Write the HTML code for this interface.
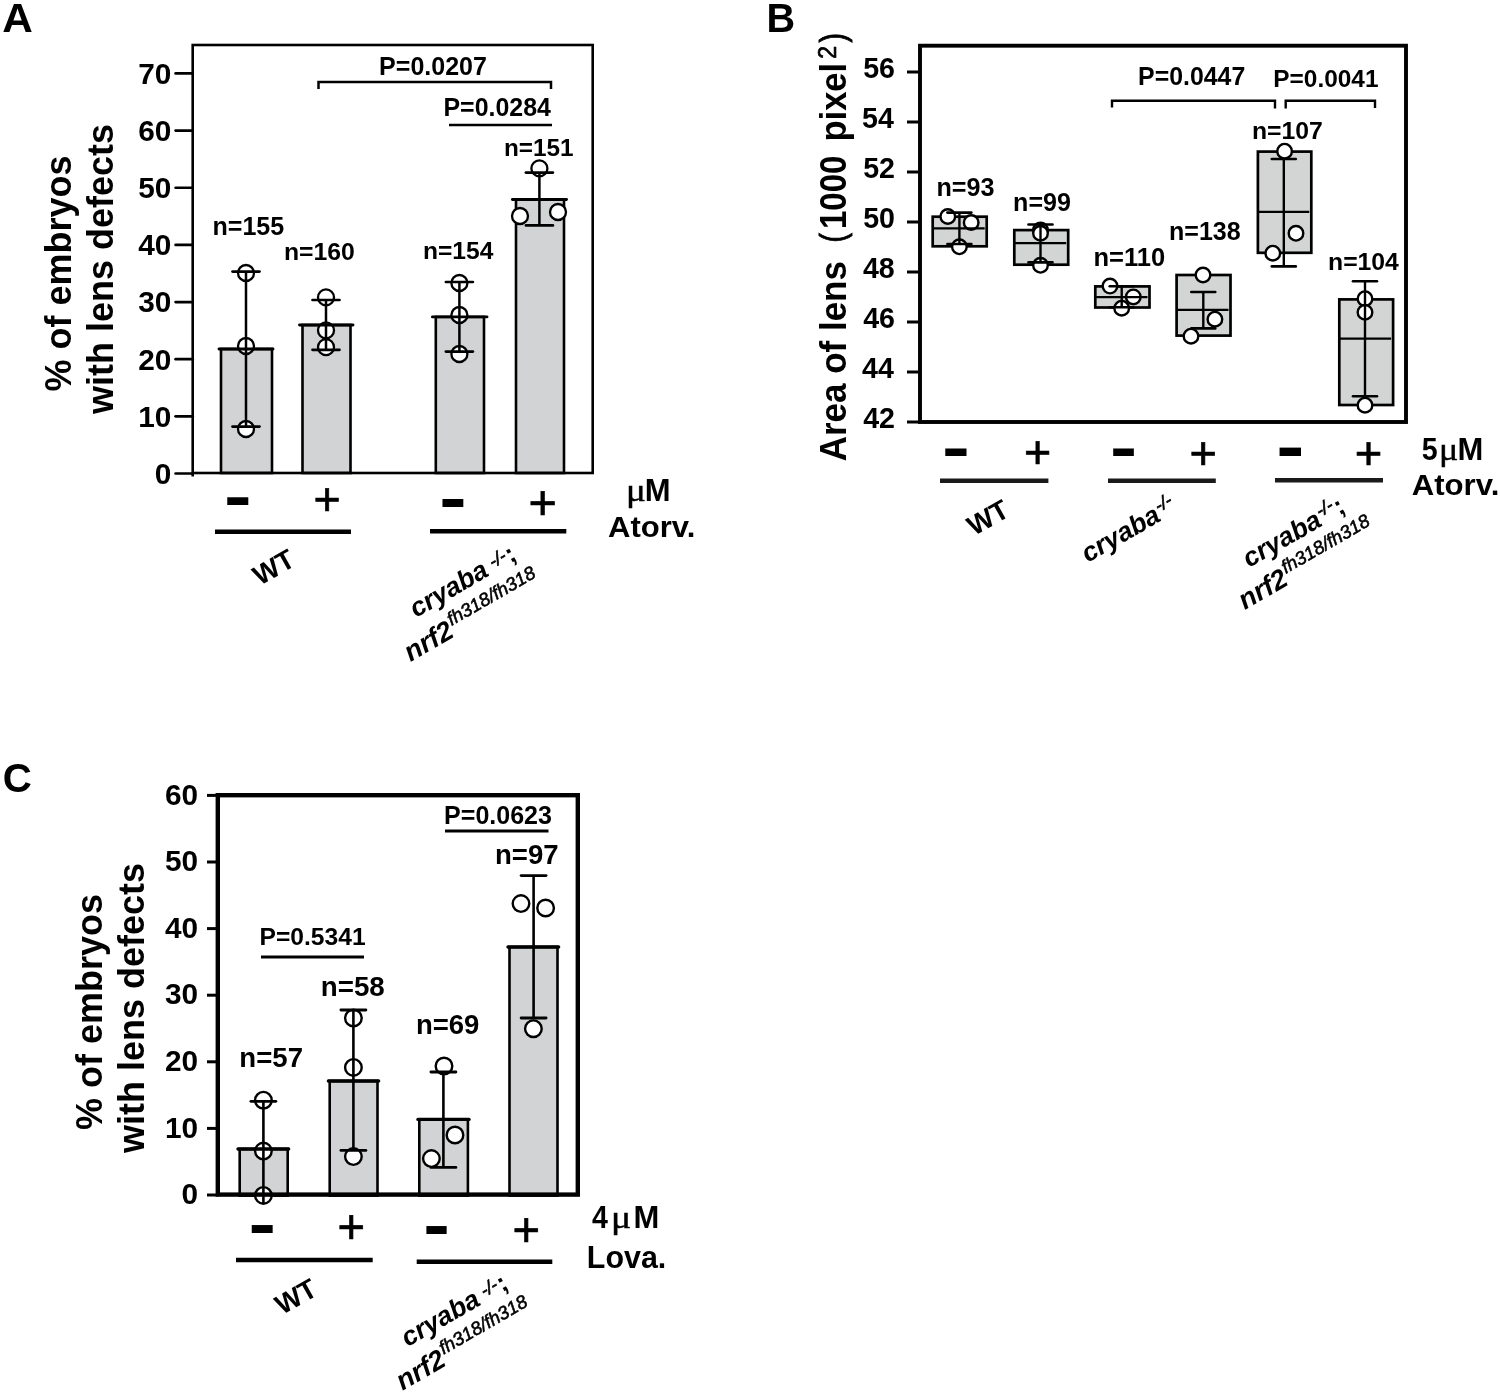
<!DOCTYPE html>
<html><head><meta charset="utf-8"><title>Figure</title>
<style>html,body{margin:0;padding:0;background:#fff}svg{display:block;filter:blur(0.4px)}text{white-space:pre}</style></head>
<body>
<svg width="1500" height="1393" viewBox="0 0 1500 1393" font-family='"Liberation Sans", sans-serif' fill="#000">
<rect x="221.00" y="349.00" width="51.00" height="124.00" fill="#d1d3d4" stroke="#000" stroke-width="2.6"/>
<rect x="302.50" y="325.00" width="48.00" height="148.00" fill="#d1d3d4" stroke="#000" stroke-width="2.6"/>
<rect x="435.80" y="316.90" width="48.20" height="156.10" fill="#d1d3d4" stroke="#000" stroke-width="2.6"/>
<rect x="516.00" y="199.50" width="48.00" height="273.50" fill="#d1d3d4" stroke="#000" stroke-width="2.6"/>
<rect x="192.70" y="45.00" width="400.00" height="428.00" fill="none" stroke="#000" stroke-width="2.6"/>
<line x1="192.70" y1="473.00" x2="192.70" y2="476.50" stroke="#000" stroke-width="2.6" stroke-linecap="butt"/>
<line x1="175.60" y1="473.50" x2="192.70" y2="473.50" stroke="#000" stroke-width="2.7" stroke-linecap="round"/>
<text transform="translate(154.80,483.80) scale(1.0000,1)" font-size="29.80" style="font-weight:bold;">0</text>
<line x1="175.60" y1="416.35" x2="192.70" y2="416.35" stroke="#000" stroke-width="2.7" stroke-linecap="round"/>
<text transform="translate(138.23,426.65) scale(1.0000,1)" font-size="29.80" style="font-weight:bold;">10</text>
<line x1="175.60" y1="359.20" x2="192.70" y2="359.20" stroke="#000" stroke-width="2.7" stroke-linecap="round"/>
<text transform="translate(138.23,369.50) scale(1.0000,1)" font-size="29.80" style="font-weight:bold;">20</text>
<line x1="175.60" y1="302.05" x2="192.70" y2="302.05" stroke="#000" stroke-width="2.7" stroke-linecap="round"/>
<text transform="translate(138.23,312.35) scale(1.0000,1)" font-size="29.80" style="font-weight:bold;">30</text>
<line x1="175.60" y1="244.90" x2="192.70" y2="244.90" stroke="#000" stroke-width="2.7" stroke-linecap="round"/>
<text transform="translate(138.23,255.20) scale(1.0000,1)" font-size="29.80" style="font-weight:bold;">40</text>
<line x1="175.60" y1="187.75" x2="192.70" y2="187.75" stroke="#000" stroke-width="2.7" stroke-linecap="round"/>
<text transform="translate(138.23,198.05) scale(1.0000,1)" font-size="29.80" style="font-weight:bold;">50</text>
<line x1="175.60" y1="130.60" x2="192.70" y2="130.60" stroke="#000" stroke-width="2.7" stroke-linecap="round"/>
<text transform="translate(138.23,140.90) scale(1.0000,1)" font-size="29.80" style="font-weight:bold;">60</text>
<line x1="175.60" y1="73.45" x2="192.70" y2="73.45" stroke="#000" stroke-width="2.7" stroke-linecap="round"/>
<text transform="translate(138.23,83.75) scale(1.0000,1)" font-size="29.80" style="font-weight:bold;">70</text>
<circle cx="246.00" cy="273.00" r="8.0" fill="#fff" stroke="#000" stroke-width="2.3"/>
<circle cx="246.00" cy="346.00" r="8.0" fill="#fff" stroke="#000" stroke-width="2.3"/>
<circle cx="246.00" cy="429.00" r="8.0" fill="#fff" stroke="#000" stroke-width="2.3"/>
<circle cx="326.00" cy="297.40" r="8.0" fill="#fff" stroke="#000" stroke-width="2.3"/>
<circle cx="326.00" cy="330.40" r="8.0" fill="#fff" stroke="#000" stroke-width="2.3"/>
<circle cx="326.00" cy="347.10" r="8.0" fill="#fff" stroke="#000" stroke-width="2.3"/>
<circle cx="459.40" cy="283.00" r="8.0" fill="#fff" stroke="#000" stroke-width="2.3"/>
<circle cx="459.40" cy="315.00" r="8.0" fill="#fff" stroke="#000" stroke-width="2.3"/>
<circle cx="459.40" cy="354.00" r="8.0" fill="#fff" stroke="#000" stroke-width="2.3"/>
<circle cx="539.40" cy="168.40" r="8.0" fill="#fff" stroke="#000" stroke-width="2.3"/>
<circle cx="520.00" cy="216.00" r="8.0" fill="#fff" stroke="#000" stroke-width="2.3"/>
<circle cx="558.00" cy="212.00" r="8.0" fill="#fff" stroke="#000" stroke-width="2.3"/>
<line x1="219.00" y1="349.00" x2="273.00" y2="349.00" stroke="#000" stroke-width="2.9" stroke-linecap="round"/>
<line x1="299.50" y1="325.00" x2="353.00" y2="325.00" stroke="#000" stroke-width="2.9" stroke-linecap="round"/>
<line x1="432.40" y1="316.90" x2="487.00" y2="316.90" stroke="#000" stroke-width="2.9" stroke-linecap="round"/>
<line x1="512.40" y1="199.50" x2="566.50" y2="199.50" stroke="#000" stroke-width="2.9" stroke-linecap="round"/>
<line x1="246.00" y1="271.60" x2="246.00" y2="426.60" stroke="#000" stroke-width="2.5" stroke-linecap="butt"/>
<line x1="232.50" y1="271.60" x2="259.50" y2="271.60" stroke="#000" stroke-width="2.7" stroke-linecap="round"/>
<line x1="232.50" y1="426.60" x2="259.50" y2="426.60" stroke="#000" stroke-width="2.7" stroke-linecap="round"/>
<line x1="326.00" y1="300.00" x2="326.00" y2="349.80" stroke="#000" stroke-width="2.5" stroke-linecap="butt"/>
<line x1="312.50" y1="300.00" x2="339.50" y2="300.00" stroke="#000" stroke-width="2.7" stroke-linecap="round"/>
<line x1="312.50" y1="349.80" x2="339.50" y2="349.80" stroke="#000" stroke-width="2.7" stroke-linecap="round"/>
<line x1="459.40" y1="282.00" x2="459.40" y2="351.60" stroke="#000" stroke-width="2.5" stroke-linecap="butt"/>
<line x1="445.90" y1="282.00" x2="472.90" y2="282.00" stroke="#000" stroke-width="2.7" stroke-linecap="round"/>
<line x1="445.90" y1="351.60" x2="472.90" y2="351.60" stroke="#000" stroke-width="2.7" stroke-linecap="round"/>
<line x1="539.40" y1="172.60" x2="539.40" y2="225.40" stroke="#000" stroke-width="2.5" stroke-linecap="butt"/>
<line x1="525.90" y1="172.60" x2="552.90" y2="172.60" stroke="#000" stroke-width="2.7" stroke-linecap="round"/>
<line x1="525.90" y1="225.40" x2="552.90" y2="225.40" stroke="#000" stroke-width="2.7" stroke-linecap="round"/>
<polyline points="318.5,89 318.5,82 551,82 551,89" fill="none" stroke="#000" stroke-width="2.5"/>
<line x1="449.00" y1="125.00" x2="552.00" y2="125.00" stroke="#000" stroke-width="2.6" stroke-linecap="butt"/>
<text transform="translate(379.10,75.20) scale(1.0000,1)" font-size="25.02" style="font-weight:bold;">P=0.0207</text>
<text transform="translate(443.50,116.00) scale(1.0000,1)" font-size="24.92" style="font-weight:bold;">P=0.0284</text>
<text transform="translate(212.50,235.20) scale(1.0000,1)" font-size="25.06" style="font-weight:bold;">n=155</text>
<text transform="translate(283.91,259.60) scale(1.0000,1)" font-size="24.79" style="font-weight:bold;">n=160</text>
<text transform="translate(422.92,259.00) scale(1.0000,1)" font-size="24.62" style="font-weight:bold;">n=154</text>
<text transform="translate(503.94,156.00) scale(1.0000,1)" font-size="24.34" style="font-weight:bold;">n=151</text>
<text transform="translate(2.35,32.00) scale(1.0588,1)" font-size="40.00" style="font-weight:bold;">A</text>
<text transform="translate(70.90,273.50) rotate(-90) scale(1,1.0)" font-size="36" text-anchor="middle" style="font-weight:bold;">% of embryos</text>
<text transform="translate(113.40,269.00) rotate(-90) scale(1,1.0)" font-size="36" text-anchor="middle" style="font-weight:bold;">with lens defects</text>
<text transform="translate(224.11,518.40) scale(0.8296,0.6500)" font-size="100" style="font-weight:bold;">-</text>
<text transform="translate(313.49,515.44) scale(0.4660,0.4660)" font-size="100" style="" stroke="#000" stroke-width="1.502">+</text>
<text transform="translate(439.23,520.37) scale(0.8222,0.6583)" font-size="100" style="font-weight:bold;">-</text>
<text transform="translate(528.41,519.11) scale(0.4860,0.4840)" font-size="100" style="" stroke="#000" stroke-width="1.443">+</text>
<line x1="215.00" y1="531.80" x2="351.00" y2="531.80" stroke="#000" stroke-width="4.4" stroke-linecap="butt"/>
<line x1="430.00" y1="531.30" x2="566.30" y2="531.30" stroke="#000" stroke-width="4.4" stroke-linecap="butt"/>
<text y="501.00" font-size="31" style="font-weight:bold"><tspan x="625.96" textLength="19.85" lengthAdjust="spacingAndGlyphs" style="font-family:'Liberation Serif',serif;font-weight:normal" stroke="#000" stroke-width="0.45">μ</tspan><tspan x="644.84" textLength="25.81" lengthAdjust="spacingAndGlyphs">M</tspan></text>
<text transform="translate(608.08,536.70) scale(1.0516,1)" font-size="29.50" style="font-weight:bold;">Atorv.</text>
<text transform="translate(259.70,585.90) rotate(-29.5) scale(1,1)" font-size="27.5" text-anchor="start" style="font-weight:bold;">WT</text>
<text transform="translate(415.90,618.10) rotate(-30)" font-size="26.6" style="font-weight:bold;font-style:italic">cryaba<tspan dx="6.1" dy="-4.95" font-size="18" style="font-weight:normal" stroke="#000" stroke-width="0.7">-/-</tspan><tspan dx="0.5" dy="4.95" font-size="26.6" style="font-style:normal">;</tspan></text>
<text transform="translate(410.50,662.00) rotate(-30)" font-size="27.5" style="font-weight:bold;font-style:italic">nrf2<tspan dx="1.6" dy="-10.7" font-size="18.7" style="font-weight:normal" stroke="#000" stroke-width="0.55">fh318/fh318</tspan></text>
<rect x="932.70" y="216.70" width="54.00" height="29.60" fill="#d3d5d4" stroke="#000" stroke-width="2.7"/>
<rect x="1014.30" y="230.10" width="53.90" height="34.60" fill="#d3d5d4" stroke="#000" stroke-width="2.7"/>
<rect x="1095.30" y="286.40" width="54.20" height="21.10" fill="#d3d5d4" stroke="#000" stroke-width="2.7"/>
<rect x="1176.60" y="275.00" width="53.90" height="60.60" fill="#d3d5d4" stroke="#000" stroke-width="2.7"/>
<rect x="1257.90" y="151.60" width="53.40" height="101.20" fill="#d3d5d4" stroke="#000" stroke-width="2.7"/>
<rect x="1339.30" y="299.40" width="53.80" height="105.60" fill="#d3d5d4" stroke="#000" stroke-width="2.7"/>
<rect x="920.00" y="45.70" width="486.00" height="376.30" fill="none" stroke="#000" stroke-width="3.9"/>
<line x1="907.00" y1="422.00" x2="920.00" y2="422.00" stroke="#000" stroke-width="3.0" stroke-linecap="butt"/>
<text transform="translate(863.22,428.20) scale(1.0000,1)" font-size="28.60" style="font-weight:bold;">42</text>
<line x1="907.00" y1="372.00" x2="920.00" y2="372.00" stroke="#000" stroke-width="3.0" stroke-linecap="butt"/>
<text transform="translate(862.08,378.20) scale(1.0000,1)" font-size="28.60" style="font-weight:bold;">44</text>
<line x1="907.00" y1="322.00" x2="920.00" y2="322.00" stroke="#000" stroke-width="3.0" stroke-linecap="butt"/>
<text transform="translate(863.22,328.20) scale(1.0000,1)" font-size="28.60" style="font-weight:bold;">46</text>
<line x1="907.00" y1="272.00" x2="920.00" y2="272.00" stroke="#000" stroke-width="3.0" stroke-linecap="butt"/>
<text transform="translate(862.94,278.20) scale(1.0000,1)" font-size="28.60" style="font-weight:bold;">48</text>
<line x1="907.00" y1="222.00" x2="920.00" y2="222.00" stroke="#000" stroke-width="3.0" stroke-linecap="butt"/>
<text transform="translate(863.22,228.20) scale(1.0000,1)" font-size="28.60" style="font-weight:bold;">50</text>
<line x1="907.00" y1="172.00" x2="920.00" y2="172.00" stroke="#000" stroke-width="3.0" stroke-linecap="butt"/>
<text transform="translate(863.22,178.20) scale(1.0000,1)" font-size="28.60" style="font-weight:bold;">52</text>
<line x1="907.00" y1="122.00" x2="920.00" y2="122.00" stroke="#000" stroke-width="3.0" stroke-linecap="butt"/>
<text transform="translate(862.08,128.20) scale(1.0000,1)" font-size="28.60" style="font-weight:bold;">54</text>
<line x1="907.00" y1="72.00" x2="920.00" y2="72.00" stroke="#000" stroke-width="3.0" stroke-linecap="butt"/>
<text transform="translate(863.22,78.20) scale(1.0000,1)" font-size="28.60" style="font-weight:bold;">56</text>
<circle cx="947.80" cy="216.50" r="7.3" fill="#fff" stroke="#000" stroke-width="2.4"/>
<circle cx="971.20" cy="222.50" r="7.3" fill="#fff" stroke="#000" stroke-width="2.4"/>
<circle cx="959.40" cy="246.80" r="7.3" fill="#fff" stroke="#000" stroke-width="2.4"/>
<circle cx="1040.50" cy="230.10" r="7.3" fill="#fff" stroke="#000" stroke-width="2.4"/>
<circle cx="1040.50" cy="233.30" r="7.3" fill="#fff" stroke="#000" stroke-width="2.4"/>
<circle cx="1040.50" cy="265.30" r="7.3" fill="#fff" stroke="#000" stroke-width="2.4"/>
<circle cx="1110.00" cy="286.10" r="7.3" fill="#fff" stroke="#000" stroke-width="2.4"/>
<circle cx="1133.30" cy="296.90" r="7.3" fill="#fff" stroke="#000" stroke-width="2.4"/>
<circle cx="1121.70" cy="308.20" r="7.3" fill="#fff" stroke="#000" stroke-width="2.4"/>
<circle cx="1203.00" cy="275.00" r="7.3" fill="#fff" stroke="#000" stroke-width="2.4"/>
<circle cx="1214.90" cy="319.20" r="7.3" fill="#fff" stroke="#000" stroke-width="2.4"/>
<circle cx="1191.00" cy="336.20" r="7.3" fill="#fff" stroke="#000" stroke-width="2.4"/>
<circle cx="1284.60" cy="151.20" r="7.3" fill="#fff" stroke="#000" stroke-width="2.4"/>
<circle cx="1296.00" cy="233.30" r="7.3" fill="#fff" stroke="#000" stroke-width="2.4"/>
<circle cx="1272.80" cy="253.20" r="7.3" fill="#fff" stroke="#000" stroke-width="2.4"/>
<circle cx="1365.00" cy="298.70" r="7.3" fill="#fff" stroke="#000" stroke-width="2.4"/>
<circle cx="1365.00" cy="312.30" r="7.3" fill="#fff" stroke="#000" stroke-width="2.4"/>
<circle cx="1365.00" cy="405.20" r="7.3" fill="#fff" stroke="#000" stroke-width="2.4"/>
<line x1="932.70" y1="228.40" x2="984.70" y2="228.40" stroke="#000" stroke-width="2.3" stroke-linecap="butt"/>
<line x1="959.40" y1="212.60" x2="959.40" y2="244.00" stroke="#000" stroke-width="2.4" stroke-linecap="butt"/>
<line x1="947.40" y1="212.60" x2="971.40" y2="212.60" stroke="#000" stroke-width="2.6" stroke-linecap="round"/>
<line x1="947.40" y1="244.00" x2="971.40" y2="244.00" stroke="#000" stroke-width="2.6" stroke-linecap="round"/>
<line x1="1014.30" y1="243.20" x2="1066.20" y2="243.20" stroke="#000" stroke-width="2.3" stroke-linecap="butt"/>
<line x1="1040.50" y1="224.50" x2="1040.50" y2="262.40" stroke="#000" stroke-width="2.4" stroke-linecap="butt"/>
<line x1="1028.50" y1="224.50" x2="1052.50" y2="224.50" stroke="#000" stroke-width="2.6" stroke-linecap="round"/>
<line x1="1028.50" y1="262.40" x2="1052.50" y2="262.40" stroke="#000" stroke-width="2.6" stroke-linecap="round"/>
<line x1="1095.30" y1="297.10" x2="1147.50" y2="297.10" stroke="#000" stroke-width="2.3" stroke-linecap="butt"/>
<line x1="1121.70" y1="286.30" x2="1121.70" y2="307.30" stroke="#000" stroke-width="2.4" stroke-linecap="butt"/>
<line x1="1109.70" y1="286.30" x2="1133.70" y2="286.30" stroke="#000" stroke-width="2.6" stroke-linecap="round"/>
<line x1="1109.70" y1="307.30" x2="1133.70" y2="307.30" stroke="#000" stroke-width="2.6" stroke-linecap="round"/>
<line x1="1176.60" y1="309.90" x2="1228.50" y2="309.90" stroke="#000" stroke-width="2.3" stroke-linecap="butt"/>
<line x1="1203.30" y1="292.00" x2="1203.30" y2="328.40" stroke="#000" stroke-width="2.4" stroke-linecap="butt"/>
<line x1="1191.30" y1="292.00" x2="1215.30" y2="292.00" stroke="#000" stroke-width="2.6" stroke-linecap="round"/>
<line x1="1191.30" y1="328.40" x2="1215.30" y2="328.40" stroke="#000" stroke-width="2.6" stroke-linecap="round"/>
<line x1="1257.90" y1="211.90" x2="1309.30" y2="211.90" stroke="#000" stroke-width="2.3" stroke-linecap="butt"/>
<line x1="1283.80" y1="159.00" x2="1283.80" y2="266.40" stroke="#000" stroke-width="2.4" stroke-linecap="butt"/>
<line x1="1271.80" y1="159.00" x2="1295.80" y2="159.00" stroke="#000" stroke-width="2.6" stroke-linecap="round"/>
<line x1="1271.80" y1="266.40" x2="1295.80" y2="266.40" stroke="#000" stroke-width="2.6" stroke-linecap="round"/>
<line x1="1339.30" y1="338.70" x2="1391.10" y2="338.70" stroke="#000" stroke-width="2.3" stroke-linecap="butt"/>
<line x1="1365.00" y1="281.30" x2="1365.00" y2="396.30" stroke="#000" stroke-width="2.4" stroke-linecap="butt"/>
<line x1="1353.00" y1="281.30" x2="1377.00" y2="281.30" stroke="#000" stroke-width="2.6" stroke-linecap="round"/>
<line x1="1353.00" y1="396.30" x2="1377.00" y2="396.30" stroke="#000" stroke-width="2.6" stroke-linecap="round"/>
<polyline points="1112,107.6 1112,100.7 1275,100.7 1275,108.5" fill="none" stroke="#000" stroke-width="2.4"/>
<polyline points="1285.7,108.5 1285.7,100.7 1375,100.7 1375,108" fill="none" stroke="#000" stroke-width="2.4"/>
<text transform="translate(1138.11,85.00) scale(1.0000,1)" font-size="24.87" style="font-weight:bold;">P=0.0447</text>
<text transform="translate(1273.34,87.00) scale(1.0000,1)" font-size="24.41" style="font-weight:bold;">P=0.0041</text>
<text transform="translate(936.49,195.60) scale(1.0000,1)" font-size="25.15" style="font-weight:bold;">n=93</text>
<text transform="translate(1013.10,211.00) scale(1.0000,1)" font-size="25.06" style="font-weight:bold;">n=99</text>
<text transform="translate(1093.47,265.70) scale(1.0000,1)" font-size="25.52" style="font-weight:bold;">n=110</text>
<text transform="translate(1169.00,239.50) scale(1.0000,1)" font-size="25.03" style="font-weight:bold;">n=138</text>
<text transform="translate(1251.91,139.40) scale(1.0000,1)" font-size="24.75" style="font-weight:bold;">n=107</text>
<text transform="translate(1328.01,269.50) scale(1.0000,1)" font-size="24.76" style="font-weight:bold;">n=104</text>
<text transform="translate(766.62,32.00) scale(0.9919,1)" font-size="40.00" style="font-weight:bold;">B</text>
<text transform="translate(845.80,461.30) rotate(-90) scale(1,1.06)" font-size="35" style="font-weight:bold">Area of lens<tspan x="218.70" y="-0.38" font-size="33.2" textLength="9.40" lengthAdjust="spacingAndGlyphs" style="font-weight:normal" stroke="#000" stroke-width="0.9">(</tspan><tspan x="232.30" y="0" font-size="35.3" textLength="73.41" lengthAdjust="spacingAndGlyphs">1000</tspan><tspan x="319.80" y="0" font-size="34.5">pixel</tspan><tspan x="402.30" y="-8.96" font-size="23.5" style="font-weight:normal" stroke="#000" stroke-width="0.6">2</tspan><tspan x="418.80" y="-0.38" font-size="33.2" textLength="9.40" lengthAdjust="spacingAndGlyphs" style="font-weight:normal" stroke="#000" stroke-width="0.9">)</tspan></text>
<text transform="translate(941.89,468.67) scale(0.8370,0.6333)" font-size="100" style="font-weight:bold;">-</text>
<text transform="translate(1024.09,468.37) scale(0.4660,0.4580)" font-size="100" style="" stroke="#000" stroke-width="1.515">+</text>
<text transform="translate(1109.96,468.67) scale(0.8148,0.6333)" font-size="100" style="font-weight:bold;">-</text>
<text transform="translate(1189.47,468.56) scale(0.4700,0.4680)" font-size="100" style="" stroke="#000" stroke-width="1.493">+</text>
<text transform="translate(1276.27,469.87) scale(0.8444,0.7083)" font-size="100" style="font-weight:bold;">-</text>
<text transform="translate(1354.66,468.56) scale(0.4720,0.4680)" font-size="100" style="" stroke="#000" stroke-width="1.489">+</text>
<line x1="940.00" y1="480.70" x2="1048.40" y2="480.70" stroke="#1a1a1a" stroke-width="4.6" stroke-linecap="butt"/>
<line x1="1108.00" y1="480.70" x2="1215.80" y2="480.70" stroke="#1a1a1a" stroke-width="4.6" stroke-linecap="butt"/>
<line x1="1275.00" y1="480.20" x2="1383.00" y2="480.20" stroke="#1a1a1a" stroke-width="4.6" stroke-linecap="butt"/>
<text y="459.50" font-size="31" style="font-weight:bold"><tspan x="1421.84" textLength="15.91" lengthAdjust="spacingAndGlyphs">5</tspan><tspan x="1439.04" textLength="19.34" lengthAdjust="spacingAndGlyphs" style="font-family:'Liberation Serif',serif;font-weight:normal" stroke="#000" stroke-width="0.45">μ</tspan><tspan x="1457.44" textLength="25.81" lengthAdjust="spacingAndGlyphs">M</tspan></text>
<text transform="translate(1411.68,494.90) scale(1.0494,1)" font-size="29.70" style="font-weight:bold;">Atorv.</text>
<text transform="translate(974.00,536.20) rotate(-29.5) scale(1,1)" font-size="27.5" text-anchor="start" style="font-weight:bold;">WT</text>
<text transform="translate(1087.80,563.00) rotate(-30)" font-size="26.6" style="font-weight:bold;font-style:italic">cryaba<tspan dx="1.0" dy="-8.5" font-size="18" style="font-weight:normal" stroke="#000" stroke-width="0.7">-/-</tspan></text>
<text transform="translate(1249.00,568.00) rotate(-30)" font-size="26.6" style="font-weight:bold;font-style:italic">cryaba<tspan dx="1.0" dy="-8.5" font-size="18" style="font-weight:normal" stroke="#000" stroke-width="0.7">-/-</tspan><tspan dx="0.5" dy="8.5" font-size="26.6" style="font-style:normal">;</tspan></text>
<text transform="translate(1244.80,610.00) rotate(-30)" font-size="27.5" style="font-weight:bold;font-style:italic">nrf2<tspan dx="1.6" dy="-10.7" font-size="18.7" style="font-weight:normal" stroke="#000" stroke-width="0.55">fh318/fh318</tspan></text>
<rect x="239.70" y="1149.00" width="48.00" height="46.60" fill="#d1d3d4" stroke="#000" stroke-width="2.6"/>
<rect x="329.70" y="1081.00" width="47.80" height="114.60" fill="#d1d3d4" stroke="#000" stroke-width="2.6"/>
<rect x="419.30" y="1119.40" width="48.60" height="76.20" fill="#d1d3d4" stroke="#000" stroke-width="2.6"/>
<rect x="509.50" y="947.00" width="48.00" height="248.60" fill="#d1d3d4" stroke="#000" stroke-width="2.6"/>
<line x1="207.00" y1="1195.00" x2="217.80" y2="1195.00" stroke="#000" stroke-width="3.0" stroke-linecap="butt"/>
<text transform="translate(181.50,1204.20) scale(1.0000,1)" font-size="29.80" style="font-weight:bold;">0</text>
<line x1="207.00" y1="1128.40" x2="217.80" y2="1128.40" stroke="#000" stroke-width="3.0" stroke-linecap="butt"/>
<text transform="translate(164.93,1137.60) scale(1.0000,1)" font-size="29.80" style="font-weight:bold;">10</text>
<line x1="207.00" y1="1061.80" x2="217.80" y2="1061.80" stroke="#000" stroke-width="3.0" stroke-linecap="butt"/>
<text transform="translate(164.93,1071.00) scale(1.0000,1)" font-size="29.80" style="font-weight:bold;">20</text>
<line x1="207.00" y1="995.20" x2="217.80" y2="995.20" stroke="#000" stroke-width="3.0" stroke-linecap="butt"/>
<text transform="translate(164.93,1004.40) scale(1.0000,1)" font-size="29.80" style="font-weight:bold;">30</text>
<line x1="207.00" y1="928.60" x2="217.80" y2="928.60" stroke="#000" stroke-width="3.0" stroke-linecap="butt"/>
<text transform="translate(164.93,937.80) scale(1.0000,1)" font-size="29.80" style="font-weight:bold;">40</text>
<line x1="207.00" y1="862.00" x2="217.80" y2="862.00" stroke="#000" stroke-width="3.0" stroke-linecap="butt"/>
<text transform="translate(164.93,871.20) scale(1.0000,1)" font-size="29.80" style="font-weight:bold;">50</text>
<line x1="207.00" y1="795.40" x2="217.80" y2="795.40" stroke="#000" stroke-width="3.0" stroke-linecap="butt"/>
<text transform="translate(164.93,804.60) scale(1.0000,1)" font-size="29.80" style="font-weight:bold;">60</text>
<circle cx="263.40" cy="1100.20" r="8.3" fill="#fff" stroke="#000" stroke-width="2.4"/>
<circle cx="263.40" cy="1151.10" r="8.3" fill="#fff" stroke="#000" stroke-width="2.4"/>
<circle cx="263.40" cy="1195.40" r="8.3" fill="#fff" stroke="#000" stroke-width="2.4"/>
<circle cx="353.40" cy="1018.00" r="8.3" fill="#fff" stroke="#000" stroke-width="2.4"/>
<circle cx="353.40" cy="1067.40" r="8.3" fill="#fff" stroke="#000" stroke-width="2.4"/>
<circle cx="353.40" cy="1156.60" r="8.3" fill="#fff" stroke="#000" stroke-width="2.4"/>
<circle cx="444.00" cy="1066.00" r="8.3" fill="#fff" stroke="#000" stroke-width="2.4"/>
<circle cx="455.00" cy="1135.00" r="8.3" fill="#fff" stroke="#000" stroke-width="2.4"/>
<circle cx="431.40" cy="1158.60" r="8.3" fill="#fff" stroke="#000" stroke-width="2.4"/>
<circle cx="521.00" cy="903.60" r="8.3" fill="#fff" stroke="#000" stroke-width="2.4"/>
<circle cx="545.60" cy="908.00" r="8.3" fill="#fff" stroke="#000" stroke-width="2.4"/>
<circle cx="533.40" cy="1028.70" r="8.3" fill="#fff" stroke="#000" stroke-width="2.4"/>
<rect x="217.80" y="795.20" width="360.00" height="399.40" fill="none" stroke="#000" stroke-width="4.4"/>
<line x1="238.00" y1="1149.00" x2="288.60" y2="1149.00" stroke="#000" stroke-width="3.4" stroke-linecap="round"/>
<line x1="328.40" y1="1081.00" x2="378.60" y2="1081.00" stroke="#000" stroke-width="3.4" stroke-linecap="round"/>
<line x1="418.00" y1="1119.40" x2="469.00" y2="1119.40" stroke="#000" stroke-width="3.4" stroke-linecap="round"/>
<line x1="508.00" y1="947.00" x2="558.60" y2="947.00" stroke="#000" stroke-width="3.4" stroke-linecap="round"/>
<line x1="263.40" y1="1101.30" x2="263.40" y2="1203.00" stroke="#000" stroke-width="2.6" stroke-linecap="butt"/>
<line x1="250.90" y1="1101.30" x2="275.90" y2="1101.30" stroke="#000" stroke-width="2.8000000000000003" stroke-linecap="round"/>
<line x1="353.40" y1="1010.00" x2="353.40" y2="1150.40" stroke="#000" stroke-width="2.6" stroke-linecap="butt"/>
<line x1="340.90" y1="1010.00" x2="365.90" y2="1010.00" stroke="#000" stroke-width="2.8000000000000003" stroke-linecap="round"/>
<line x1="340.90" y1="1150.40" x2="365.90" y2="1150.40" stroke="#000" stroke-width="2.8000000000000003" stroke-linecap="round"/>
<line x1="443.40" y1="1072.00" x2="443.40" y2="1167.40" stroke="#000" stroke-width="2.6" stroke-linecap="butt"/>
<line x1="430.90" y1="1072.00" x2="455.90" y2="1072.00" stroke="#000" stroke-width="2.8000000000000003" stroke-linecap="round"/>
<line x1="430.90" y1="1167.40" x2="455.90" y2="1167.40" stroke="#000" stroke-width="2.8000000000000003" stroke-linecap="round"/>
<line x1="533.60" y1="875.60" x2="533.60" y2="1018.00" stroke="#000" stroke-width="2.6" stroke-linecap="butt"/>
<line x1="521.10" y1="875.60" x2="546.10" y2="875.60" stroke="#000" stroke-width="2.8000000000000003" stroke-linecap="round"/>
<line x1="521.10" y1="1018.00" x2="546.10" y2="1018.00" stroke="#000" stroke-width="2.8000000000000003" stroke-linecap="round"/>
<line x1="261.00" y1="957.00" x2="364.00" y2="957.00" stroke="#000" stroke-width="2.8" stroke-linecap="butt"/>
<line x1="445.00" y1="831.00" x2="548.50" y2="831.00" stroke="#000" stroke-width="2.8" stroke-linecap="butt"/>
<text transform="translate(259.52,945.00) scale(1.0000,1)" font-size="24.62" style="font-weight:bold;">P=0.5341</text>
<text transform="translate(444.10,823.60) scale(1.0000,1)" font-size="25.02" style="font-weight:bold;">P=0.0623</text>
<text transform="translate(239.34,1067.40) scale(1.0000,1)" font-size="27.59" style="font-weight:bold;">n=57</text>
<text transform="translate(320.74,995.50) scale(1.0000,1)" font-size="27.74" style="font-weight:bold;">n=58</text>
<text transform="translate(415.95,1034.00) scale(1.0000,1)" font-size="27.50" style="font-weight:bold;">n=69</text>
<text transform="translate(494.94,864.40) scale(1.0000,1)" font-size="27.59" style="font-weight:bold;">n=97</text>
<text transform="translate(2.79,792.00) scale(1.0076,1)" font-size="40.00" style="font-weight:bold;">C</text>
<text transform="translate(101.80,1012.00) rotate(-90) scale(1,1.0)" font-size="36" text-anchor="middle" style="font-weight:bold;">% of embryos</text>
<text transform="translate(144.40,1008.00) rotate(-90) scale(1,1.0)" font-size="36" text-anchor="middle" style="font-weight:bold;">with lens defects</text>
<text transform="translate(248.52,1245.63) scale(0.8259,0.6667)" font-size="100" style="font-weight:bold;">-</text>
<text transform="translate(337.46,1243.20) scale(0.4720,0.4720)" font-size="100" style="" stroke="#000" stroke-width="1.483">+</text>
<text transform="translate(423.30,1247.33) scale(0.8000,0.6667)" font-size="100" style="font-weight:bold;">-</text>
<text transform="translate(512.46,1245.72) scale(0.4720,0.4860)" font-size="100" style="" stroke="#000" stroke-width="1.461">+</text>
<line x1="236.00" y1="1260.00" x2="372.70" y2="1260.00" stroke="#000" stroke-width="4.6" stroke-linecap="butt"/>
<line x1="416.70" y1="1261.70" x2="552.30" y2="1261.70" stroke="#000" stroke-width="4.6" stroke-linecap="butt"/>
<text y="1228.00" font-size="31.5" style="font-weight:bold"><tspan x="592.01" textLength="15.88" lengthAdjust="spacingAndGlyphs">4</tspan><tspan x="610.91" textLength="20.23" lengthAdjust="spacingAndGlyphs" style="font-family:'Liberation Serif',serif;font-weight:normal" stroke="#000" stroke-width="0.45">μ</tspan><tspan x="633.44" textLength="25.81" lengthAdjust="spacingAndGlyphs">M</tspan></text>
<text transform="translate(586.87,1268.00) scale(1.0000,1)" font-size="30.43" style="font-weight:bold;">Lova.</text>
<text transform="translate(282.00,1315.30) rotate(-29.5) scale(1,1)" font-size="27.5" text-anchor="start" style="font-weight:bold;">WT</text>
<text transform="translate(407.50,1347.20) rotate(-30)" font-size="26.6" style="font-weight:bold;font-style:italic">cryaba<tspan dx="6.1" dy="-4.95" font-size="18" style="font-weight:normal" stroke="#000" stroke-width="0.7">-/-</tspan><tspan dx="0.5" dy="4.95" font-size="26.6" style="font-style:normal">;</tspan></text>
<text transform="translate(402.50,1390.80) rotate(-30)" font-size="27.5" style="font-weight:bold;font-style:italic">nrf2<tspan dx="1.6" dy="-10.7" font-size="18.7" style="font-weight:normal" stroke="#000" stroke-width="0.55">fh318/fh318</tspan></text>
</svg>
</body></html>
